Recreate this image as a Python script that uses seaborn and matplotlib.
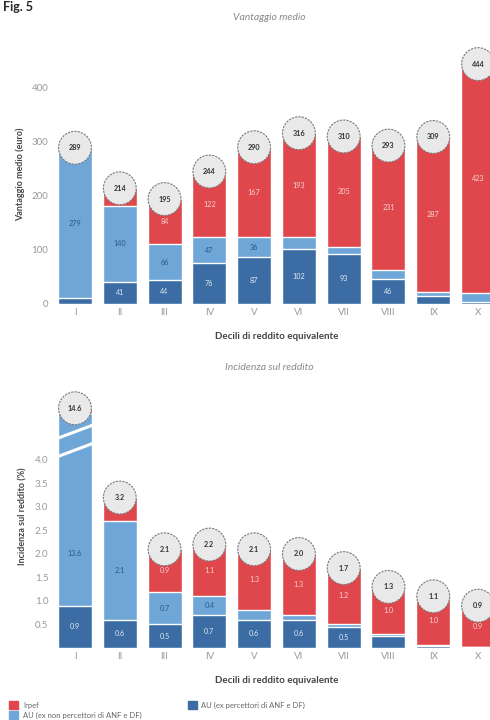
import matplotlib.pyplot as plt
import matplotlib.patches as mpatches
import pandas as pd
import seaborn as sns

sns.set_theme(style='white')
plt.rcParams['font.family'] = ['Lato', 'DejaVu Sans']

deciles = ['I', 'II', 'III', 'IV', 'V', 'VI', 'VII', 'VIII', 'IX', 'X']

# vantaggio medio (euro)
au_perc = [10, 41, 44, 76, 87, 102, 93, 46, 15, 3]
au_nonperc = [279, 140, 66, 47, 36, 21, 12, 16, 7, 18]
irpef = [0, 33, 84, 122, 167, 193, 205, 231, 287, 423]
tot_euro = [289, 214, 195, 244, 290, 316, 310, 293, 309, 444]

# incidenza sul reddito (%)
au_perc_pct = [0.9, 0.6, 0.5, 0.7, 0.6, 0.6, 0.45, 0.25, 0.05, 0.02]
au_nonperc_pct = [13.6, 2.1, 0.7, 0.4, 0.2, 0.1, 0.07, 0.05, 0.02, 0.01]
irpef_pct = [0.1, 0.5, 0.9, 1.1, 1.3, 1.3, 1.18, 1.0, 1.03, 0.87]
tot_pct = [14.6, 3.2, 2.1, 2.2, 2.1, 2.0, 1.7, 1.3, 1.1, 0.9]

RED = '#e0474c'
LIGHT = '#6fa6d8'
DARK = '#3b6da4'


def panel(ax, dark, light, red, totals, fmt, min_lab, circ_r, cap=None):
    df = pd.DataFrame({'decile': deciles, 'dark': dark, 'light': light, 'red': red})
    df['tot'] = df[['dark', 'light', 'red']].sum(axis=1)
    # bar cut by the axis break: squeeze the light segment
    if cap is not None:
        excess = (df['tot'] - cap).clip(lower=0)
        df['light'] = df['light'] - excess
        df['tot'] = df['tot'] - excess
    df['dl'] = df['dark'] + df['light']
    for col, c in [('tot', RED), ('dl', LIGHT), ('dark', DARK)]:
        sns.barplot(data=df, x='decile', y=col, order=deciles, color=c,
                    width=0.76, saturation=1, ax=ax, zorder=2)
    for i in range(len(deciles)):
        segs = [(0, dark[i], df['dark'][i], '#dfe8f2'),
                (df['dark'][i], light[i], df['light'][i], '#2d5585'),
                (df['dl'][i], red[i], red[i], '#f8d3d3')]
        for k, (b, v, h, tc) in enumerate(segs):
            if v < min_lab:
                continue
            if k == 2 and h < 2 * circ_r:
                continue
            ymid = b + h / 2
            if cap is not None and k == 1 and totals[i] > cap:
                ymid = b + h * 0.27
            ax.text(i, ymid, fmt.format(v), ha='center', va='center',
                    fontsize=5.2, color=tc, zorder=3)
        ax.scatter(i, df['tot'][i], s=560, facecolor='#e9e9e9', edgecolor='#7a7a7a',
                   linewidth=0.8, linestyle=(0, (2, 1)), zorder=5)
        ax.text(i, df['tot'][i], fmt.format(totals[i]), ha='center', va='center',
                fontsize=5.2, fontweight='bold', color='#333333', zorder=6)
    ax.set_xlim(-0.5, 9.5)
    sns.despine(ax=ax, left=True, bottom=True)
    ax.tick_params(axis='both', length=0, labelsize=7, colors='#999999', pad=3)
    ax.set_xlabel('Decili di reddito equivalente', fontsize=7, color='#444444',
                  fontweight='bold', labelpad=11)
    return df


fig = plt.figure(figsize=(4.9, 7.2), dpi=100)
fig.text(0.006, 0.999, 'Fig. 5', fontsize=9, fontweight='bold', va='top')

ax1 = fig.add_axes([0.1073, 0.578, 0.914, 0.36])
panel(ax1, au_perc, au_nonperc, irpef, tot_euro, '{:.0f}', 35, 31)
ax1.set_ylim(0, 480)
ax1.set_yticks([0, 100, 200, 300, 400])
ax1.set_ylabel('Vantaggio medio (euro)', fontsize=6.5, color='#444444',
               fontweight='bold', labelpad=5)
fig.text(0.55, 1 - 18 / 720, 'Vantaggio medio', fontsize=7.5, style='italic',
         color='#8a8a8a', ha='center', va='center')

ax2 = fig.add_axes([0.1073, 0.1, 0.914, 0.3656])
panel(ax2, au_perc_pct, au_nonperc_pct, irpef_pct, tot_pct, '{:.1f}', 0.35, 0.36,
      cap=5.1)
ax2.set_ylim(0, 5.6)
ax2.set_yticks([0.5, 1.0, 1.5, 2.0, 2.5, 3.0, 3.5, 4.0])
ax2.set_yticklabels(['0.5', '1.0', '1.5', '2.0', '2.5', '3.0', '3.5', '4.0'])
ax2.set_ylabel('Incidenza sul reddito (%)', fontsize=6.5, color='#444444',
               fontweight='bold', labelpad=5)
fig.text(0.55, 1 - 368 / 720, 'Incidenza sul reddito', fontsize=7.5, style='italic',
         color='#8a8a8a', ha='center', va='center')

# axis break on the first bar
for y0 in [4.06, 4.45]:
    ax2.plot([-0.42, 0.42], [y0, y0 + 0.3], color='white', lw=2.2,
             solid_capstyle='butt', zorder=4)

handles = [mpatches.Patch(color=RED, label='Irpef'),
           mpatches.Patch(color=LIGHT, label='AU (ex non percettori di ANF e DF)'),
           mpatches.Patch(color=DARK, label='AU (ex percettori di ANF e DF)')]
fig.legend(handles=handles, ncol=2, loc='lower left', bbox_to_anchor=(0.005, -0.008),
           frameon=False, fontsize=5.5, handlelength=1.2, handleheight=1.1,
           columnspacing=6, labelspacing=0.35, handletextpad=0.6,
           labelcolor='#666666')

fig.savefig('out.png', dpi=100)
